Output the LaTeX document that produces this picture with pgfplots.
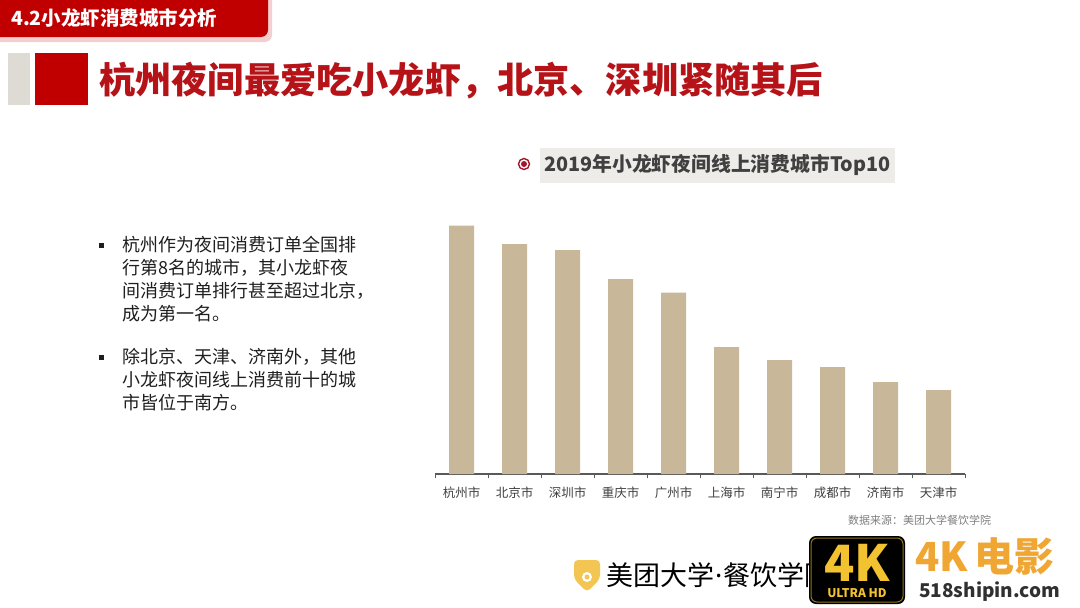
\documentclass[border=0pt]{standalone}
\usepackage{fontspec}
\setmainfont{Noto Sans CJK SC}
\newfontfamily\latinfont{Noto Sans}
\usepackage{pgfplots}
\pgfplotsset{compat=1.18}
\definecolor{hdr}{HTML}{C00000}
\definecolor{hdrshadow}{HTML}{F2D0D0}
\definecolor{titlered}{HTML}{B51318}
\definecolor{sq}{HTML}{C00000}
\definecolor{hatch}{HTML}{DEDBD4}
\definecolor{chartbg}{HTML}{EEECE8}
\definecolor{circred}{HTML}{A3162C}
\definecolor{ctitle}{HTML}{404040}
\definecolor{barc}{HTML}{C8B899}
\definecolor{axisgray}{HTML}{595959}
\definecolor{labelgray}{HTML}{404040}
\definecolor{bodytext}{HTML}{1F1F1F}
\definecolor{srcgray}{HTML}{7F7F7F}
\definecolor{logoyellow}{HTML}{F3C553}
\definecolor{wmgold}{HTML}{F2C230}
\definecolor{wmorange}{HTML}{F0A632}
\definecolor{wmdark}{HTML}{303030}
\begin{document}
\begin{tikzpicture}[x=1pt,y=1pt]
\useasboundingbox (0,0) rectangle (1080,-608);
\fill[white] (0,0) rectangle (1080,-608);
% header tab
\fill[hdrshadow, rounded corners=7pt] (-20,10) rectangle (272,-42);
\fill[hdr, rounded corners=7pt] (-20,10) rectangle (268,-37);
\node[anchor=west, inner sep=0, text=white, font=\fontsize{19.5}{21}\selectfont\bfseries] at (11,-18) {4.2小龙虾消费城市分析};
% title bar
\fill[hatch] (8,-53) rectangle (30,-105);
\fill[sq] (35,-53) rectangle (88,-105);
\node[anchor=west, inner sep=0, text=titlered, font=\fontsize{36.2}{40}\selectfont\bfseries] at (99,-81) {杭州夜间最爱吃小龙虾，北京、深圳紧随其后};
% chart title
\fill[chartbg] (540,-148) rectangle (895,-183);
\draw[circred, line width=1.4pt] (524,-164) circle (5.5);
\fill[circred] (524,-164) circle (3);
\node[anchor=west, inner sep=0, text=ctitle, font=\fontsize{19.8}{22}\selectfont\bfseries] at (544,-165) {2019年小龙虾夜间线上消费城市Top10};
% bullets
\fill[bodytext] (98.5,-242.5) rectangle (104,-248);
\fill[bodytext] (98.5,-354.5) rectangle (104,-360);
\begin{scope}[every node/.style={anchor=west, inner sep=0, text=bodytext, font=\fontsize{18}{20}\selectfont}]
\node at (122,-245) {杭州作为夜间消费订单全国排};
\node at (122,-268) {行第8名的城市，其小龙虾夜};
\node at (122,-291) {间消费订单排行甚至超过北京，};
\node at (122,-314) {成为第一名。};
\node at (122,-357) {除北京、天津、济南外，其他};
\node at (122,-380) {小龙虾夜间线上消费前十的城};
\node at (122,-403) {市皆位于南方。};
\end{scope}
% chart
\begin{axis}[at={(435pt,-474pt)}, anchor=south west, scale only axis,
  width=530pt, height=260pt,
  xmin=-0.5, xmax=9.5, ymin=0, ymax=260,
  axis y line=none, axis x line*=bottom,
  x axis line style={axisgray, line width=1.5pt, -},
  xtick={0,...,9},
  xticklabels={杭州市,北京市,深圳市,重庆市,广州市,上海市,南宁市,成都市,济南市,天津市},
  major tick length=0pt,
  minor xtick={-0.5,0.5,...,9.5},
  minor tick length=4pt,
  xtick align=outside,
  minor tick style={axisgray, line width=1pt},
  xticklabel style={font=\fontsize{12.5}{14}\selectfont, text=labelgray, anchor=center, yshift=-19pt},
  ybar, bar width=25pt, clip=false]
\addplot[fill=barc, draw=none] coordinates {(0,248.5) (1,230) (2,224) (3,195) (4,181.5) (5,127) (6,114) (7,107) (8,92) (9,84)};
\end{axis}
% source
\node[anchor=west, inner sep=0, text=srcgray, font=\fontsize{11}{12}\selectfont] at (848,-520) {数据来源：美团大学餐饮学院};
% logo
\fill[logoyellow, rounded corners=4pt] (574,-560) -- (600,-560) -- (600,-579) -- (587,-592) -- (574,-579) -- cycle;
\fill[white] (587,-577) circle (5);
\fill[logoyellow] (587,-577) circle (2.5);
\node[anchor=west, inner sep=0, font=\fontsize{27}{30}\selectfont] at (606,-575) {美团大学{\latinfont\kern1pt·\kern1pt}餐饮学院};
% watermark
\fill[black, rounded corners=7pt] (809,-536) rectangle (905,-604);
\draw[wmgold!60!black, line width=1pt, rounded corners=6pt] (811,-538) rectangle (903,-602);
\node[inner sep=0, text=wmgold, font=\fontsize{50}{50}\selectfont\bfseries] at (857,-563) {4K};
\node[inner sep=0, text=wmgold, font=\fontsize{12}{12}\selectfont\bfseries] at (857,-593) {ULTRA HD};
\node[anchor=west, inner sep=0, text=wmorange, font=\fontsize{40}{42}\selectfont\bfseries] at (915,-556) {4K\,电影};
\node[anchor=west, inner sep=0, text=wmdark, font=\fontsize{19}{20}\selectfont\bfseries] at (919,-592) {518shipin.com};
\end{tikzpicture}
\end{document}
